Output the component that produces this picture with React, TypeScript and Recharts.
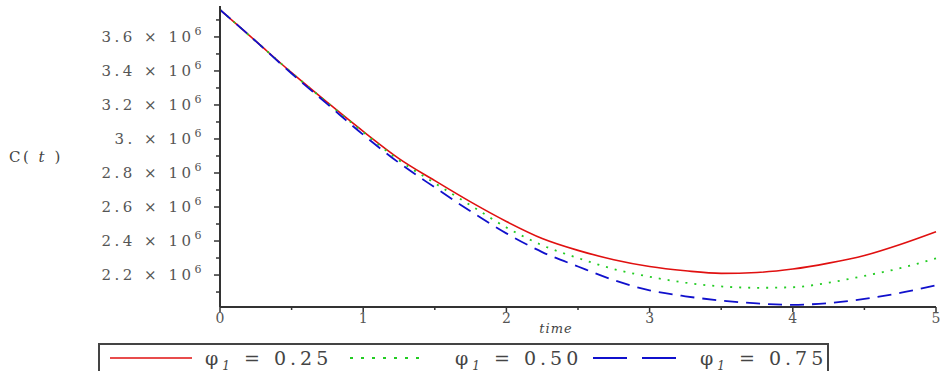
import React from 'react';
import { LineChart, Line, XAxis, YAxis } from 'recharts';

const times = [0, 0.25, 0.5, 0.75, 1, 1.25, 1.5, 1.75, 2, 2.25, 2.5, 2.75, 3, 3.25, 3.5, 3.75, 4, 4.25, 4.5, 4.75, 5];

// C(t) for each phi_1
const phi025 = [3.76e6, 3.575e6, 3.39e6, 3.215e6, 3.045e6, 2.885e6, 2.755e6, 2.63e6, 2.515e6, 2.415e6, 2.345e6, 2.29e6, 2.25e6, 2.225e6, 2.21e6, 2.215e6, 2.235e6, 2.27e6, 2.315e6, 2.38e6, 2.455e6];
const phi050 = [3.76e6, 3.575e6, 3.39e6, 3.213e6, 3.04e6, 2.875e6, 2.74e6, 2.61e6, 2.48e6, 2.375e6, 2.3e6, 2.235e6, 2.19e6, 2.155e6, 2.133e6, 2.125e6, 2.128e6, 2.155e6, 2.195e6, 2.24e6, 2.298e6];
const phi075 = [3.76e6, 3.575e6, 3.385e6, 3.205e6, 3.025e6, 2.86e6, 2.715e6, 2.575e6, 2.445e6, 2.335e6, 2.25e6, 2.17e6, 2.11e6, 2.075e6, 2.05e6, 2.033e6, 2.025e6, 2.035e6, 2.06e6, 2.095e6, 2.14e6];

const xTicks = [0, 0.5, 1, 1.5, 2, 2.5, 3, 3.5, 4, 4.5, 5];
const yTicks = [2.1e6, 2.2e6, 2.3e6, 2.4e6, 2.5e6, 2.6e6, 2.7e6, 2.8e6, 2.9e6, 3.0e6, 3.1e6, 3.2e6, 3.3e6, 3.4e6, 3.5e6, 3.6e6, 3.7e6];

const series = [
  { key: 'a', label: '0.25', color: '#e01010', dash: undefined as string | undefined, width: 1.6 },
  { key: 'b', label: '0.50', color: '#22cc22', dash: '2 7', width: 1.8 },
  { key: 'c', label: '0.75', color: '#1010cc', dash: '14 8', width: 1.8 },
];

// legend layout (pixels)
const legendItems = [
  { lineX: 10, lineW: 82, textX: 105, dash: undefined as string | undefined },
  { lineX: 250, lineW: 74, textX: 355, dash: '3 8' },
  { lineX: 493, lineW: 96, textX: 600, dash: '34 15' },
];

const data = times.map((t, i) => ({ t, a: phi025[i], b: phi050[i], c: phi075[i] }));

const FONT = '"DejaVu Serif", "Liberation Serif", serif';
const AXIS = '#333';

const YTick = (props: any) => {
  const { x, y, payload } = props;
  const v = payload.value;
  const major = Math.round(v / 1e5) % 2 === 0;
  const m = v / 1e6;
  const mant = Math.abs(m - Math.round(m)) < 1e-9 ? `${Math.round(m)}.` : m.toFixed(1);
  return (
    <g>
      <line x1={x - (major ? 6 : 4)} x2={x} y1={y} y2={y} stroke={AXIS} strokeWidth={1.5} />
      {major && (
        <text x={x - 15} y={y} dy={5} textAnchor="end" fill="#555" fontSize={15} fontFamily={FONT} letterSpacing={3.5}>
          {mant} × 10<tspan dy={-7} fontSize={11}>6</tspan>
        </text>
      )}
    </g>
  );
};

const XTick = (props: any) => {
  const { x, y, payload } = props;
  const v = payload.value;
  const major = Number.isInteger(v);
  return (
    <g>
      <line x1={x} x2={x} y1={y} y2={y + (major ? 5 : 3)} stroke={AXIS} strokeWidth={1.5} />
      {major && (
        <text x={x} y={y + 16} textAnchor="middle" fill="#555" fontSize={14} fontFamily={FONT}>
          {v}
        </text>
      )}
    </g>
  );
};

const YLabel = (props: any) => {
  const vb = props.viewBox || { y: 6, height: 301 };
  return (
    <text x={9} y={vb.y + vb.height / 2 + 5} fill="#444" fontSize={15} fontFamily={FONT} letterSpacing={2.5}>
      C( <tspan fontStyle="italic">t</tspan> )
    </text>
  );
};

const XLabel = (props: any) => {
  const vb = props.viewBox || { x: 220, width: 716, y: 307 };
  return (
    <text x={vb.x + vb.width / 2 - 22} y={vb.y + 26} textAnchor="middle" fill="#444" fontSize={13} fontStyle="italic" fontFamily={FONT} letterSpacing={1}>
      time
    </text>
  );
};

const LegendBox = () => (
  <div
    style={{
      position: 'absolute',
      left: 98,
      top: 343,
      width: 727,
      height: 26,
      border: '2px solid #444',
      fontFamily: FONT,
      fontSize: 19,
      color: '#444',
      boxSizing: 'content-box',
    }}
  >
    {series.map((s, i) => {
      const it = legendItems[i];
      return (
        <React.Fragment key={s.key}>
          <svg width={it.lineW} height={12} style={{ position: 'absolute', left: it.lineX, top: 7 }}>
            <line x1={0} x2={it.lineW} y1={6} y2={6} stroke={s.color} strokeWidth={s.width} strokeDasharray={it.dash} />
          </svg>
          <span style={{ position: 'absolute', left: it.textX, top: 0, letterSpacing: 4, whiteSpace: 'nowrap', lineHeight: '26px' }}>
            φ<sub style={{ fontStyle: 'italic', fontSize: 12 }}>1</sub> = {s.label}
          </span>
        </React.Fragment>
      );
    })}
  </div>
);

export default function App() {
  return (
    <div style={{ position: 'absolute', left: 0, top: 0, width: 942, height: 371, background: '#fff' }}>
      <LineChart width={942} height={371} data={data} margin={{ top: 6, right: 6, left: 0, bottom: 34 }}>
        <XAxis
          dataKey="t"
          type="number"
          domain={[0, 5]}
          ticks={xTicks}
          interval={0}
          height={30}
          tickSize={0}
          tickMargin={0}
          tickLine={false}
          axisLine={{ stroke: AXIS, strokeWidth: 2 }}
          tick={<XTick />}
          label={<XLabel />}
        />
        <YAxis
          type="number"
          domain={[2.012e6, 3.782e6]}
          ticks={yTicks}
          interval={0}
          width={220}
          tickSize={0}
          tickMargin={0}
          tickLine={false}
          axisLine={{ stroke: AXIS, strokeWidth: 2 }}
          tick={<YTick />}
          label={<YLabel />}
          allowDataOverflow
        />
        {series.map((s) => (
          <Line
            key={s.key}
            dataKey={s.key}
            type="monotone"
            stroke={s.color}
            strokeWidth={s.width}
            strokeDasharray={s.dash}
            dot={false}
            isAnimationActive={false}
          />
        ))}
      </LineChart>
      <LegendBox />
    </div>
  );
}
